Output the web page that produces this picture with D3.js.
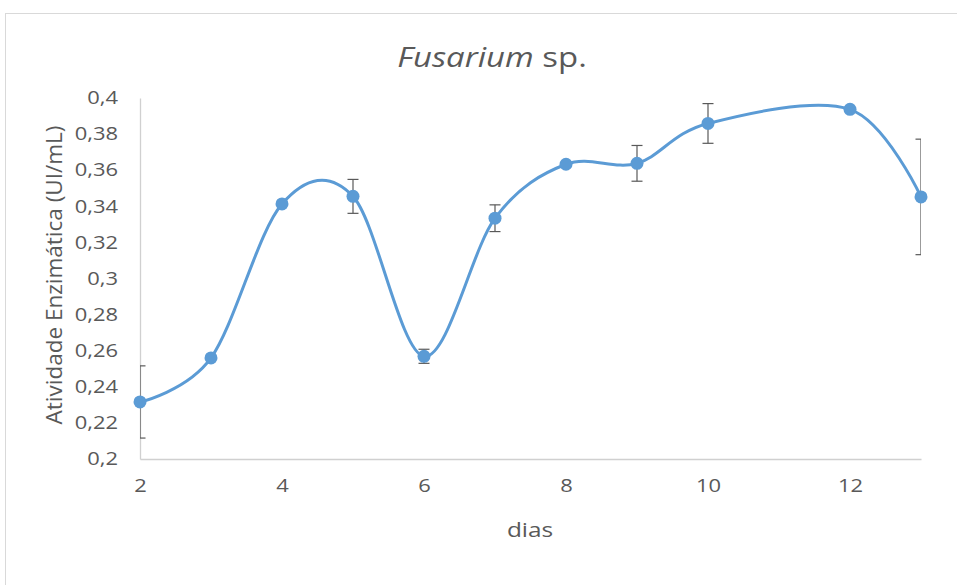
<!DOCTYPE html>
<html>
<head>
<meta charset="utf-8">
<style>
  body { margin: 0; background: #fff; }
  text { font-family: "Open Sans", Lato, sans-serif; }
</style>
</head>
<body>
<div id="chart"></div>
<script src="https://d3js.org/d3.v7.min.js"></script>
<script>
// dados
const dias = [2, 3, 4, 5, 6, 7, 8, 9, 10, 12, 13];
const atividade = [0.2316, 0.256, 0.3413, 0.3455, 0.2569, 0.3334, 0.3633, 0.3638, 0.3859, 0.3937, 0.3452];
const erro = [0.02, 0, 0, 0.0094, 0.0039, 0.0074, 0, 0.0099, 0.011, 0, 0.032];
const xTicks = [2, 4, 6, 8, 10, 12];
const yTicks = [0.2, 0.22, 0.24, 0.26, 0.28, 0.3, 0.32, 0.34, 0.36, 0.38, 0.4];

const W = 957, H = 585;
const pLeft = 140, pRight = 921, pTop = 98, pBottom = 459;
const SX = 1.22; // o texto do original é mais largo

const svg = d3.select("#chart").append("svg")
  .attr("width", W).attr("height", H);

// moldura
svg.append("rect")
  .attr("x", 5.5).attr("y", 13.5)
  .attr("width", W + 20).attr("height", H + 20)
  .attr("fill", "#fff").attr("stroke", "#d9d9d9");

const x = d3.scaleLinear().domain([2, 13]).range([pLeft, pRight]);
const y = d3.scaleLinear().domain([0.2, 0.4]).range([pBottom, pTop]);

// eixos
const xAxis = svg.append("g")
  .attr("transform", `translate(0,${pBottom})`)
  .call(d3.axisBottom(x).tickValues(xTicks).tickSize(0).tickPadding(20).tickFormat(d3.format("d")));
const yAxis = svg.append("g")
  .attr("transform", `translate(${pLeft},0)`)
  .call(d3.axisLeft(y).tickValues(yTicks).tickSize(0)
    .tickFormat(d => String(+d.toFixed(2)).replace(".", ",")));

[xAxis, yAxis].forEach(a => {
  a.select(".domain").attr("stroke", "#d0d0d0").attr("stroke-width", 1.3);
  a.selectAll("text").attr("fill", "#595959").style("font-size", "18px")
    .style("font-family", "'Open Sans', Lato, sans-serif")
    .attr("transform", `scale(${SX},1)`);
});
yAxis.selectAll("text").attr("x", -22 / SX);

svg.append("clipPath").attr("id", "plot")
  .append("rect").attr("x", pLeft).attr("y", pTop - 10)
  .attr("width", pRight - pLeft).attr("height", pBottom - pTop + 20);

const data = dias.map((d, i) => ({ x: d, y: atividade[i], e: erro[i] }));

// barras de erro
const eb = svg.append("g").attr("clip-path", "url(#plot)")
  .attr("stroke", "#595959").attr("stroke-width", 1.2);
data.filter(d => d.e > 0).forEach(d => {
  const cx = x(d.x), y1 = y(d.y + d.e), y2 = y(d.y - d.e);
  eb.append("line").attr("x1", cx).attr("x2", cx).attr("y1", y1).attr("y2", y2);
  eb.append("line").attr("x1", cx - 5.5).attr("x2", cx + 5.5).attr("y1", y1).attr("y2", y1);
  eb.append("line").attr("x1", cx - 5.5).attr("x2", cx + 5.5).attr("y1", y2).attr("y2", y2);
});

// linha suavizada
const line = d3.line().x(d => x(d.x)).y(d => y(d.y)).curve(d3.curveCatmullRom.alpha(0));
svg.append("path").datum(data)
  .attr("d", line).attr("fill", "none")
  .attr("stroke", "#5b9bd5").attr("stroke-width", 3);

svg.append("g").selectAll("circle").data(data).join("circle")
  .attr("cx", d => x(d.x)).attr("cy", d => y(d.y))
  .attr("r", 6.5).attr("fill", "#5b9bd5");

// títulos
const title = svg.append("text")
  .attr("transform", `translate(492,67) scale(${SX},1)`)
  .attr("text-anchor", "middle")
  .attr("fill", "#595959").style("font-size", "27px");
title.append("tspan").style("font-style", "italic").text("Fusarium");
title.append("tspan").text(" sp.");

svg.append("text")
  .attr("transform", `translate(530,537) scale(${SX},1)`)
  .attr("text-anchor", "middle")
  .attr("fill", "#595959").style("font-size", "20px").text("dias");

svg.append("text")
  .attr("transform", "translate(62,275) rotate(-90)")
  .attr("text-anchor", "middle")
  .attr("fill", "#595959").style("font-size", "22.5px")
  .text("Atividade Enzimática (UI/mL)");
</script>
</body>
</html>
